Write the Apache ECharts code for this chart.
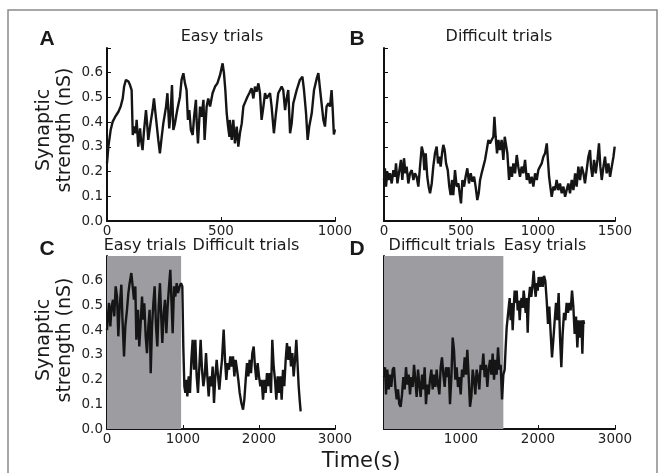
<!DOCTYPE html>
<html>
<head>
<meta charset="utf-8">
<script src="https://cdn.jsdelivr.net/npm/echarts@6/dist/echarts.min.js"></script>
<style>html,body{margin:0;padding:0;background:#fff}#c{width:662px;height:473px}</style>
</head>
<body>
<div id="c"></div>
<script>
// ---- Data ----
var panelLetters = ['A', 'B', 'C', 'D'];
var yTicks = ['0.0', '0.1', '0.2', '0.3', '0.4', '0.5', '0.6'];
var easyPhaseC = [0, 975];     // shaded "Easy trials" phase in C
var difficultPhaseD = [0, 1550]; // shaded "Difficult trials" phase in D

var tA = [0,6,16,25,35,42,50,60,69,75,83,94,101,108,113,120,126,130,137,145,149,156,162,171,177,181,192,200,206,212,225,232,240,247,259,265,273,279,285,291,298,308,320,327,335,342,349,355,361,368,376,382,390,393,399,408,415,423,428,437,444,452,463,474,484,496,507,513,519,525,531,537,539,547,554,561,569,576,583,591,598,607,616,624,634,642,649,656,664,671,678,686,693,700,708,715,722,732,741,751,766,773,781,788,795,803,810,817,832,846,857,864,873,880,887,898,908,920,927,934,942,949,956,963,971,978,985,990,995,1000];
var yA = [0.233,0.301,0.368,0.402,0.420,0.415,0.442,0.463,0.496,0.544,0.571,0.564,0.550,0.530,0.348,0.382,0.355,0.409,0.301,0.375,0.328,0.287,0.362,0.449,0.382,0.328,0.402,0.449,0.496,0.442,0.328,0.274,0.341,0.395,0.463,0.517,0.375,0.436,0.550,0.368,0.395,0.449,0.503,0.571,0.598,0.557,0.530,0.409,0.449,0.368,0.348,0.422,0.490,0.409,0.314,0.463,0.422,0.490,0.328,0.463,0.496,0.463,0.517,0.544,0.557,0.591,0.638,0.598,0.530,0.436,0.382,0.341,0.409,0.328,0.409,0.314,0.382,0.301,0.355,0.395,0.463,0.483,0.503,0.517,0.537,0.496,0.544,0.523,0.557,0.517,0.409,0.463,0.517,0.496,0.490,0.517,0.463,0.355,0.436,0.517,0.544,0.530,0.449,0.496,0.530,0.355,0.395,0.476,0.530,0.571,0.584,0.530,0.436,0.328,0.382,0.436,0.530,0.577,0.598,0.537,0.544,0.409,0.382,0.463,0.476,0.463,0.530,0.450,0.350,0.370];

var tB = [0,6,13,22,30,39,50,61,71,78,87,100,110,119,130,139,147,158,169,180,191,201,212,223,234,245,255,262,271,281,290,299,310,320,331,342,351,359,368,377,385,394,403,414,424,433,442,450,461,472,483,494,500,509,520,530,541,552,563,574,585,595,606,615,624,634,645,656,667,678,688,699,710,717,725,734,743,753,764,775,784,792,801,812,821,831,840,851,862,872,883,894,905,916,927,937,948,959,970,981,992,1002,1013,1024,1035,1046,1057,1063,1072,1080,1089,1100,1111,1121,1132,1143,1154,1165,1176,1186,1197,1208,1219,1230,1241,1251,1262,1273,1284,1295,1305,1316,1327,1338,1344,1353,1364,1375,1386,1396,1405,1414,1425,1435,1446,1457,1468,1479,1490,1498];
var yB = [0.166,0.213,0.139,0.200,0.166,0.193,0.152,0.206,0.179,0.233,0.152,0.206,0.247,0.166,0.254,0.193,0.220,0.152,0.193,0.206,0.166,0.193,0.179,0.139,0.220,0.301,0.274,0.206,0.274,0.179,0.139,0.112,0.152,0.220,0.274,0.301,0.233,0.260,0.220,0.274,0.308,0.287,0.233,0.206,0.139,0.105,0.166,0.105,0.206,0.139,0.152,0.098,0.071,0.166,0.139,0.179,0.213,0.152,0.193,0.159,0.179,0.139,0.085,0.112,0.166,0.193,0.220,0.247,0.287,0.328,0.314,0.328,0.341,0.422,0.341,0.274,0.328,0.287,0.328,0.247,0.341,0.341,0.274,0.166,0.220,0.179,0.233,0.193,0.267,0.220,0.179,0.220,0.193,0.247,0.166,0.193,0.152,0.179,0.139,0.193,0.166,0.206,0.220,0.233,0.260,0.274,0.314,0.260,0.179,0.139,0.098,0.139,0.125,0.166,0.125,0.152,0.112,0.139,0.098,0.125,0.152,0.112,0.166,0.125,0.193,0.139,0.220,0.166,0.220,0.193,0.152,0.206,0.260,0.287,0.220,0.179,0.247,0.193,0.247,0.314,0.220,0.166,0.220,0.260,0.193,0.233,0.179,0.220,0.260,0.301];

var tC = [0,13,26,44,61,79,96,114,132,149,167,189,202,224,241,263,281,298,320,338,355,373,386,408,425,443,461,474,491,509,526,544,561,575,592,610,627,645,662,680,697,715,728,746,763,781,798,816,833,851,864,882,899,917,934,956,974,991,1004,1018,1031,1044,1057,1075,1092,1110,1127,1145,1162,1180,1197,1215,1232,1250,1268,1285,1303,1320,1338,1355,1373,1390,1408,1425,1443,1461,1478,1496,1513,1535,1553,1570,1588,1605,1623,1641,1658,1676,1693,1711,1728,1746,1768,1790,1807,1825,1842,1860,1877,1895,1912,1930,1947,1965,1982,2000,2018,2035,2053,2070,2088,2105,2123,2140,2158,2175,2193,2211,2228,2246,2263,2281,2298,2316,2333,2351,2368,2386,2404,2421,2439,2456,2474,2491,2509,2522,2535,2548];
var yC = [0.400,0.456,0.510,0.415,0.496,0.523,0.456,0.577,0.536,0.375,0.496,0.584,0.456,0.294,0.415,0.482,0.550,0.590,0.631,0.577,0.523,0.577,0.361,0.482,0.334,0.429,0.536,0.442,0.509,0.375,0.307,0.415,0.482,0.226,0.415,0.509,0.577,0.415,0.334,0.496,0.590,0.442,0.348,0.469,0.523,0.388,0.496,0.577,0.644,0.496,0.388,0.577,0.536,0.590,0.550,0.577,0.590,0.577,0.334,0.173,0.146,0.199,0.132,0.213,0.146,0.280,0.361,0.240,0.361,0.213,0.146,0.253,0.361,0.240,0.173,0.213,0.307,0.213,0.132,0.213,0.173,0.253,0.105,0.213,0.280,0.213,0.159,0.226,0.280,0.402,0.280,0.199,0.267,0.240,0.294,0.253,0.294,0.213,0.280,0.240,0.199,0.146,0.105,0.078,0.119,0.199,0.267,0.213,0.280,0.226,0.307,0.334,0.253,0.199,0.267,0.213,0.173,0.199,0.119,0.199,0.146,0.226,0.173,0.226,0.146,0.361,0.253,0.199,0.119,0.213,0.146,0.213,0.119,0.240,0.173,0.280,0.348,0.280,0.334,0.253,0.307,0.213,0.280,0.361,0.253,0.173,0.119,0.071];

var tD = [0,13,26,43,61,78,95,113,130,147,165,182,199,216,234,251,268,286,303,320,338,355,372,390,407,424,442,459,476,494,511,528,545,563,580,597,615,632,649,667,684,701,719,736,753,771,788,805,823,840,857,875,892,909,927,944,961,978,996,1013,1030,1048,1065,1082,1100,1117,1134,1152,1169,1186,1203,1221,1238,1255,1273,1290,1307,1325,1342,1359,1377,1394,1411,1429,1446,1463,1481,1498,1515,1533,1550,1567,1580,1593,1606,1619,1632,1645,1658,1671,1684,1697,1710,1723,1736,1749,1762,1775,1788,1801,1814,1827,1840,1853,1866,1879,1896,1913,1931,1944,1957,1970,1983,1996,2009,2026,2044,2061,2078,2095,2113,2130,2147,2165,2182,2199,2217,2234,2251,2268,2286,2303,2320,2338,2355,2372,2390,2407,2424,2442,2459,2476,2494,2511,2528,2545,2563,2576,2589,2598];
var yD = [0.21,0.25,0.14,0.24,0.16,0.22,0.17,0.24,0.25,0.17,0.12,0.16,0.10,0.09,0.14,0.21,0.16,0.25,0.18,0.22,0.14,0.21,0.17,0.26,0.20,0.13,0.24,0.18,0.13,0.22,0.16,0.25,0.10,0.18,0.14,0.20,0.24,0.16,0.22,0.17,0.24,0.18,0.14,0.25,0.29,0.22,0.17,0.25,0.21,0.25,0.10,0.21,0.37,0.32,0.20,0.25,0.17,0.21,0.14,0.24,0.21,0.29,0.22,0.32,0.21,0.09,0.13,0.24,0.20,0.14,0.24,0.21,0.16,0.26,0.24,0.305,0.21,0.26,0.17,0.24,0.28,0.22,0.305,0.20,0.28,0.22,0.33,0.24,0.26,0.12,0.22,0.24,0.33,0.41,0.45,0.49,0.53,0.44,0.51,0.40,0.49,0.56,0.51,0.56,0.48,0.52,0.44,0.51,0.53,0.49,0.56,0.52,0.47,0.53,0.39,0.52,0.575,0.535,0.59,0.64,0.575,0.535,0.59,0.56,0.615,0.575,0.615,0.575,0.62,0.60,0.52,0.425,0.495,0.385,0.29,0.36,0.44,0.51,0.44,0.55,0.37,0.25,0.385,0.47,0.44,0.51,0.47,0.51,0.48,0.56,0.495,0.385,0.455,0.33,0.44,0.37,0.44,0.305,0.44,0.425];

// ---- Chart ----
function zip(t, y) { return t.map(function (v, i) { return [v, y[i]]; }); }
var FONT = 'DejaVu Sans';
var grids = [
  { left: 107, top: 48, width: 228, height: 173 },
  { left: 384, top: 48, width: 231, height: 173 },
  { left: 107, top: 256, width: 228, height: 173 },
  { left: 384, top: 256, width: 231, height: 173 }
];
var xCfg = [
  { max: 1000, interval: 500, hideZero: false },
  { max: 1500, interval: 500, hideZero: false },
  { max: 3000, interval: 1000, hideZero: false },
  { max: 3000, interval: 1000, hideZero: true }
];
var axisLine = { show: true, lineStyle: { color: '#111', width: 2 } };
var axisTick = { show: true, inside: true, length: 4, lineStyle: { color: '#111', width: 1 } };

var xAxes = xCfg.map(function (c, i) {
  return {
    type: 'value', gridIndex: i, min: 0, max: c.max, interval: c.interval,
    axisLine: axisLine, axisTick: axisTick, splitLine: { show: false },
    axisLabel: {
      fontFamily: FONT, fontSize: 13.5, color: '#222', margin: 3,
      formatter: function (v) { return (c.hideZero && v === 0) ? '' : String(v); }
    }
  };
});
var yAxes = [0, 1, 2, 3].map(function (i) {
  var showLab = (i % 2 === 0);
  return {
    type: 'value', gridIndex: i, min: 0, max: 0.7, interval: 0.1,
    axisLine: axisLine, axisTick: axisTick, splitLine: { show: false },
    axisLabel: {
      show: showLab, fontFamily: FONT, fontSize: 13.5, color: '#222', margin: 4,
      formatter: function (v) { var s = v.toFixed(1); return yTicks.indexOf(s) >= 0 ? s : ''; }
    }
  };
});

var lineStyle = { color: '#151515', width: 2.4 };
function lineSeries(i, t, y, shade) {
  var s = {
    type: 'line', xAxisIndex: i, yAxisIndex: i, data: zip(t, y),
    showSymbol: false, symbol: 'none', lineStyle: lineStyle, animation: false, z: 3
  };
  if (shade) {
    s.markArea = {
      silent: true, z: 1,
      itemStyle: { color: '#9d9da1', opacity: 1 },
      data: [[{ xAxis: shade[0] }, { xAxis: shade[1] }]]
    };
  }
  return s;
}

var ylab = 'Synaptic\nstrength (nS)';
function txt(x, y, text, size, opts) {
  opts = opts || {};
  return {
    type: 'text', x: x, y: y, rotation: opts.rot || 0,
    style: {
      text: text, fontFamily: opts.family || FONT, fontSize: size,
      fontWeight: opts.bold ? 'bold' : 'normal', fill: '#1a1a1a',
      textAlign: 'center', textVerticalAlign: 'middle', lineHeight: opts.lh || size * 1.2
    }
  };
}

var option = {
  animation: false,
  backgroundColor: '#fff',
  grid: grids,
  xAxis: xAxes,
  yAxis: yAxes,
  series: [
    lineSeries(0, tA, yA),
    lineSeries(1, tB, yB),
    lineSeries(2, tC, yC, easyPhaseC),
    lineSeries(3, tD, yD, difficultPhaseD)
  ],
  graphic: [
    { type: 'rect', shape: { x: 8, y: 10, width: 649, height: 480 }, style: { fill: 'none', stroke: '#8a8a8a', lineWidth: 1.5 }, z: -1 },
    txt(47, 39, panelLetters[0], 21, { bold: true, family: 'Liberation Sans' }),
    txt(357, 39, panelLetters[1], 21, { bold: true, family: 'Liberation Sans' }),
    txt(47, 249, panelLetters[2], 21, { bold: true, family: 'Liberation Sans' }),
    txt(357, 249, panelLetters[3], 21, { bold: true, family: 'Liberation Sans' }),
    txt(222, 37, 'Easy trials', 16),
    txt(499, 37, 'Difficult trials', 16),
    txt(145, 246, 'Easy trials', 16),
    txt(246, 246, 'Difficult trials', 16),
    txt(442, 246, 'Difficult trials', 16),
    txt(545, 246, 'Easy trials', 16),
    txt(55, 130, ylab, 19, { rot: Math.PI / 2, lh: 21 }),
    txt(55, 340, ylab, 19, { rot: Math.PI / 2, lh: 21 }),
    txt(361, 462, 'Time(s)', 21)
  ]
};
var chart = echarts.init(document.getElementById('c'), null, { renderer: 'canvas' });
chart.setOption(option);
</script>
</body>
</html>
